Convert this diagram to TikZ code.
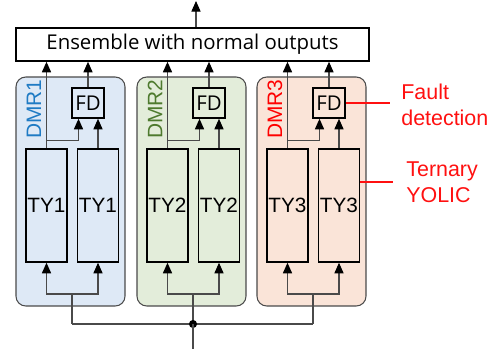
\documentclass[tikz,border=0pt]{standalone}
\usepackage{fontspec}
\setmainfont{Liberation Sans}
\newfontfamily\segoe{Open Sans}
\usetikzlibrary{arrows.meta,calc,positioning}
\definecolor{pnlA}{HTML}{DEE9F6}
\definecolor{pnlB}{HTML}{E3EDDA}
\definecolor{pnlC}{HTML}{FAE4D8}
\definecolor{txtA}{HTML}{1F7BC4}
\definecolor{txtB}{HTML}{4E7A2E}
\definecolor{txtC}{HTML}{FF0000}
\definecolor{wire}{HTML}{4A4A4A}
\definecolor{note}{HTML}{FF1010}

\begin{document}
\begin{tikzpicture}[x=0.02cm,y=-0.02cm,
  panel/.style={draw=wire,line width=0.6pt,rounded corners=5.5pt,minimum width=2.18cm,minimum height=4.58cm,inner sep=0pt},
  tybox/.style={draw=black,line width=0.9pt,fill=none,minimum width=0.82cm,minimum height=2.26cm,inner sep=0pt,font=\fontsize{11.8}{13}\selectfont},
  fdbox/.style={draw=black,line width=0.9pt,minimum width=0.64cm,minimum height=0.6cm,inner sep=0pt,font=\segoe\fontsize{11.6}{12}\selectfont},
  arr/.style={-{Triangle[length=6pt,width=5.2pt,color=black]},draw=wire,line width=0.6pt},
  ln/.style={draw=wire,line width=0.6pt},
  red/.style={draw=note,line width=0.7pt},
  lab/.style={text=note,font=\fontsize{12.2}{14.8}\selectfont,align=left,anchor=west,inner sep=0pt}]
\useasboundingbox (0,0) rectangle (498,349);

% ---------- ensemble on top ----------
\node[draw=black,line width=0.9pt,minimum width=7.06cm,minimum height=0.66cm,inner sep=0pt,
  font=\segoe\fontsize{11.6}{13}\selectfont] (ens) at (192.5,44.5) {Ensemble with normal outputs};
\coordinate (out) at (196,1);
\draw[arr] (ens.north -| out) -- (out);

% ---------- the three DMR pairs ----------
\foreach \i/\x/\fc/\tc/\ty in {1/16/pnlA/txtA/TY1,2/137/pnlB/txtB/TY2,3/257/pnlC/txtC/TY3}{
  \node[panel,fill=\fc] (dmr\i) at (\x+54.5,191.5) {};
  \node[rotate=90,text=\tc,font=\fontsize{11.9}{13}\selectfont,inner sep=0pt] at (\x+18,109) {DMR\i};
  \node[tybox] (ty\i-l) at (\x+30.5,205.5) {\ty};
  \node[tybox] (ty\i-r) at (\x+82,205.5) {\ty};
  \node[fdbox] (fd\i) at (\x+72,103) {FD};
  % outputs
  \draw[arr] (ty\i-l.north) -- (ty\i-l.north |- ens.south);
  \draw[arr] ($(ty\i-l.north)+(0,-8)$) -| ([xshift=-0.19cm]fd\i.south);
  \draw[arr] (ty\i-r.north) -- (ty\i-r.north |- fd\i.south);
  \draw[arr] (fd\i.north) -- (fd\i.north |- ens.south);
  % inputs
  \coordinate (mid\i) at (\x+56,294);
  \draw[arr] (mid\i) -| (ty\i-l.south);
  \draw[arr] (mid\i) -| (ty\i-r.south);
  \coordinate (bus\i) at (\x+56,324);
  \draw[ln] (mid\i) -- (bus\i);
}
\draw[ln] (bus1) -- (bus3);
\fill[black] (bus2) circle (2.3pt);
\coordinate (in) at (bus2 |- 0,349);
\draw[ln] (bus2) -- (in);

% ---------- notes ----------
\coordinate (fdn) at (390,103);
\draw[red] (fd3.east) -- (fdn);
\node[lab] at (401,105) {Fault\\detection};
\coordinate (tyn) at (393,182);
\draw[red] (ty3-r.east |- tyn) -- (tyn);
\node[lab] at (406,182) {Ternary\\YOLIC};
\end{tikzpicture}
\end{document}
